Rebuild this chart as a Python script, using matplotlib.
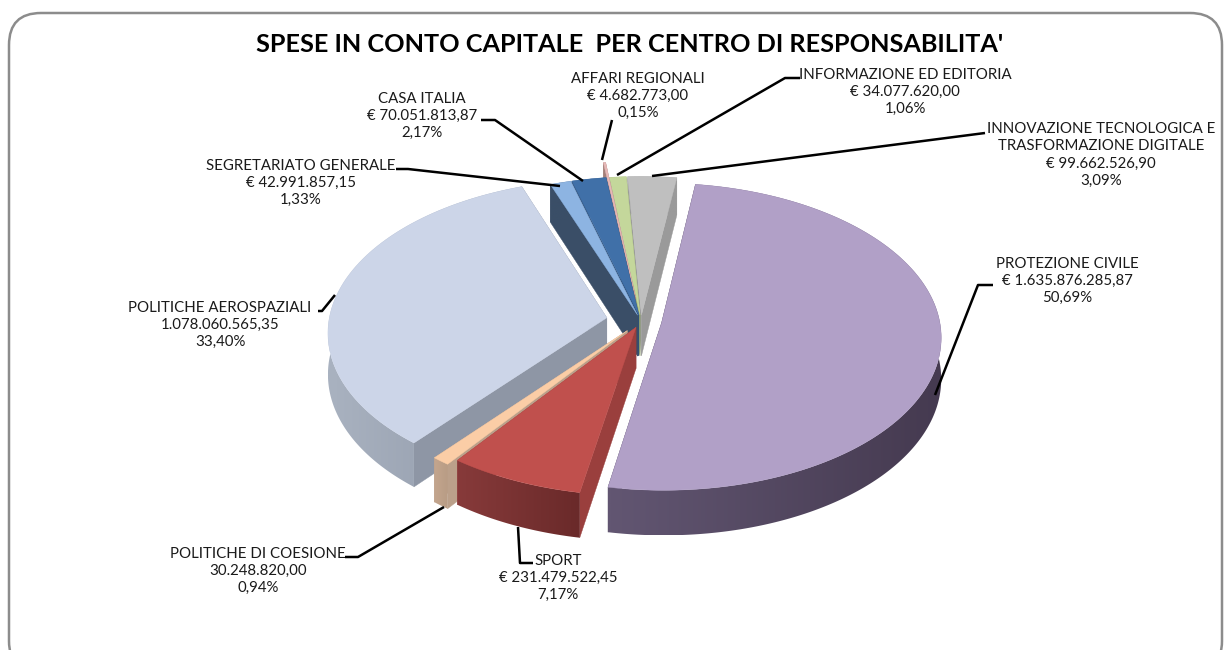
import numpy as np
import matplotlib
matplotlib.use("Agg")
import matplotlib.pyplot as plt
from matplotlib.patches import FancyBboxPatch, Polygon

# Data
categories = ["PROTEZIONE CIVILE", "SPORT", "POLITICHE DI COESIONE", "POLITICHE AEROSPAZIALI",
              "SEGRETARIATO GENERALE", "CASA ITALIA", "AFFARI REGIONALI",
              "INFORMAZIONE ED EDITORIA", "INNOVAZIONE TECNOLOGICA E\nTRASFORMAZIONE DIGITALE"]
amounts = [1635876285.87, 231479522.45, 30248820.00, 1078060565.35,
           42991857.15, 70051813.87, 4682773.00, 34077620.00, 99662526.90]
amount_labels = ["€ 1.635.876.285,87", "€ 231.479.522,45", "30.248.820,00", "1.078.060.565,35",
                 "€ 42.991.857,15", "€ 70.051.813,87", "€ 4.682.773,00", "€ 34.077.620,00", "€ 99.662.526,90"]
percent_labels = ["50,69%", "7,17%", "0,94%", "33,40%", "1,33%", "2,17%", "0,15%", "1,06%", "3,09%"]

# Styling per slice
top_colors = ["#B1A0C7", "#C0504D", "#FBCDA6", "#CCD5E8", "#8DB4E2", "#4070A8", "#E6B8B7", "#C4D79B", "#BFBFBF"]
wall_colors = ["#4A3F57", "#9A3F3D", "#BBA08A", "#8E96A5", "#3A4E67", "#2E4F78", "#A5807A", "#8FA070", "#9A9A9A"]
rim_left = ["#625672", "#873A3A", "#C4A68E", "#A9B2C0", "#3A4E67", "#2E4F78", "#A5807A", "#8FA070", "#9A9A9A"]
rim_right = ["#453A50", "#6A2A2A", "#B89C85", "#8F98A8", "#3A4E67", "#2E4F78", "#A5807A", "#8FA070", "#9A9A9A"]
explode = [0.075, 0.045, 0.08, 0.125, 0.04, 0.04, 0.16, 0.04, 0.04]

# Pie geometry in image pixels
CX, CY = 641, 321
A, B, K = 278, 152, 0.09
DEPTH = 41
START = 82.0


def project(u, v, drop=0.0):
    s = 1 / (1 + K * v)
    return CX + A * u * s, CY - B * v * s + drop * s


fig = plt.figure(figsize=(12.24, 6.5), dpi=100)
ax = fig.add_axes([0, 0, 1, 1])
ax.axis("off")

ax.add_patch(FancyBboxPatch((9, 13), 1213, 660, boxstyle="round,pad=0,rounding_size=32",
                            facecolor="white", edgecolor="#8C8C8C", linewidth=1.8))

# Slice angles, clockwise from the start angle
total = sum(amounts)
sweeps = [v / total * 360 for v in amounts]
ends = START - np.cumsum(sweeps)
starts = ends + np.array(sweeps)
mids = (starts + ends) / 2

order = sorted(range(len(amounts)), key=lambda i: -np.sin(np.radians(mids[i])))
for rank, i in enumerate(order):
    z = 2 + rank * 0.1
    m = np.radians(mids[i])
    ox, oy = explode[i] * np.cos(m), explode[i] * np.sin(m)
    ts = np.radians(np.linspace(starts[i], ends[i], max(int(sweeps[i] * 2), 4)))
    us, vs = ox + np.cos(ts), oy + np.sin(ts)
    top = [project(u, v) for u, v in zip(us, vs)]
    low = [project(u, v, DEPTH) for u, v in zip(us, vs)]
    apex = project(ox, oy)
    apex_low = project(ox, oy, DEPTH)

    # radial walls
    for a, b in [(top[0], low[0]), (top[-1], low[-1])]:
        ax.add_patch(Polygon([apex, a, b, apex_low], closed=True, facecolor=wall_colors[i],
                             edgecolor=wall_colors[i], linewidth=0.3, zorder=z))

    # rim: gradient image clipped to the outer wall
    rim = Polygon(top + low[::-1], closed=True, facecolor="none", edgecolor="none", zorder=z)
    ax.add_patch(rim)
    cols = np.linspace(matplotlib.colors.to_rgb(rim_left[i]), matplotlib.colors.to_rgb(rim_right[i]), 64)
    xs = [p[0] for p in top]
    ys = [p[1] for p in top + low]
    im = ax.imshow(cols[np.newaxis, :, :], extent=(min(xs), max(xs), max(ys), min(ys)),
                   aspect="auto", interpolation="bilinear", zorder=z)
    im.set_clip_path(rim)

    ax.add_patch(Polygon([apex] + top, closed=True, facecolor=top_colors[i],
                         edgecolor=top_colors[i], linewidth=0.3, zorder=z))

ax.set_xlim(0, 1224)
ax.set_ylim(650, 0)

# Leader lines
leaders = [[(935, 395), (978, 285), (993, 285)],
           [(518, 527), (520, 563), (533, 563)],
           [(444, 507), (358, 557), (345, 557)],
           [(335, 295), (322, 311), (318, 311)],
           [(560, 186), (408, 169), (396, 169)],
           [(583, 181), (495, 120), (481, 120)],
           [(602, 160), (612, 120)],
           [(617, 175), (785, 78), (800, 78)],
           [(652, 176), (985, 133)]]
for pts in leaders:
    ax.plot([p[0] for p in pts], [p[1] for p in pts], color="black", lw=1.8, zorder=5,
            solid_capstyle="butt")

# Labels
label_xy = [(1067, 281), (558, 578), (258, 571), (220, 325), (301, 183),
            (422, 116), (638, 96), (905, 92), (1101, 155)]
for i, (x, y) in enumerate(label_xy):
    txt = f"{categories[i]}\n{amount_labels[i]}\n{percent_labels[i]}"
    ax.text(x, y, txt, ha="center", va="center", fontsize=10.8, family="Lato",
            color="#1A1A1A", linespacing=1.3, zorder=6)

ax.text(630, 45, "SPESE IN CONTO CAPITALE  PER CENTRO DI RESPONSABILITA'", ha="center", va="center",
        fontsize=18.2, fontweight="bold", family="Lato", color="black", zorder=6)

fig.savefig("out.png", dpi=100)
